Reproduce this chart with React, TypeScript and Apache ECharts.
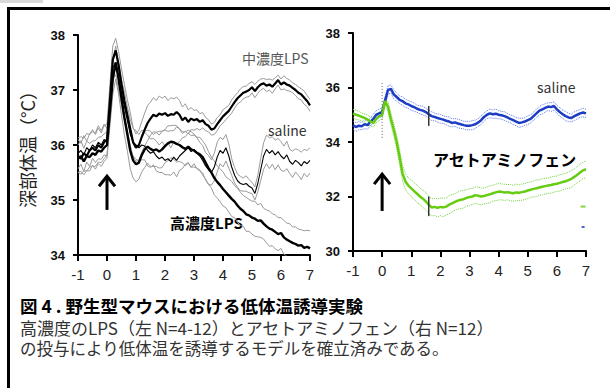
import React, { useEffect, useRef } from "react";
import * as echarts from "echarts";

// time grid (hours after injection), 0.1 h steps from -1 to 7
const hours: number[] = Array.from({ length: 81 }, (_, i) => (i - 10) / 10);

// ---- left panel: LPS ----
const midLpsMean = [
  35.80, 35.75, 35.85, 35.80, 35.90, 35.95, 35.90, 36.00, 35.95, 36.05,
  36.10, 36.80, 37.55, 37.72, 37.45, 37.10, 36.80, 36.55, 36.30, 36.05,
  35.95, 36.00, 36.15, 36.28, 36.40, 36.48, 36.55, 36.52, 36.57, 36.55,
  36.58, 36.53, 36.56, 36.55, 36.60, 36.55, 36.45, 36.50, 36.42, 36.48,
  36.45, 36.47, 36.42, 36.45, 36.38, 36.35, 36.28, 36.30, 36.38, 36.45,
  36.52, 36.57, 36.62, 36.70, 36.78, 36.85, 36.90, 36.95, 36.97, 37.00,
  37.05, 36.98, 37.05, 37.10, 37.12, 37.08, 37.10, 37.06, 37.12, 37.18,
  37.10, 37.14, 37.10, 37.08, 37.04, 37.00, 36.95, 36.92, 36.86, 36.80,
  36.72,
];
const midLpsSem = [
  0.30, 0.28, 0.32, 0.27, 0.30, 0.33, 0.29, 0.31, 0.27, 0.30,
  0.28, 0.30, 0.25, 0.22, 0.25, 0.28, 0.30, 0.28, 0.30, 0.27,
  0.25, 0.27, 0.28, 0.30, 0.32, 0.30, 0.31, 0.29, 0.32, 0.30,
  0.31, 0.28, 0.30, 0.29, 0.27, 0.26, 0.24, 0.25, 0.22, 0.20,
  0.18, 0.17, 0.15, 0.14, 0.12, 0.11, 0.10, 0.11, 0.12, 0.10,
  0.12, 0.11, 0.10, 0.12, 0.11, 0.10, 0.12, 0.11, 0.10, 0.12,
  0.10, 0.12, 0.11, 0.10, 0.09, 0.11, 0.10, 0.12, 0.10, 0.09,
  0.10, 0.12, 0.11, 0.10, 0.09, 0.10, 0.11, 0.10, 0.12, 0.10,
  0.11,
];
const hiLpsMean = [
  35.75, 35.80, 35.70, 35.80, 35.78, 35.85, 35.82, 35.90, 35.88, 35.95,
  36.00, 36.60, 37.20, 37.50, 37.20, 36.85, 36.50, 36.20, 35.90, 35.72,
  35.65, 35.68, 35.82, 35.92, 35.97, 35.93, 35.90, 35.92, 35.88, 35.92,
  35.98, 36.03, 36.06, 36.05, 36.02, 36.00, 35.96, 35.93, 35.97, 35.92,
  35.90, 35.86, 35.83, 35.78, 35.68, 35.58, 35.50, 35.40, 35.33, 35.27,
  35.20, 35.14, 35.08, 35.02, 34.97, 34.90, 34.84, 34.80, 34.74, 34.72,
  34.68, 34.66, 34.62, 34.63, 34.57, 34.52, 34.48, 34.46, 34.42, 34.38,
  34.40, 34.32, 34.28, 34.25, 34.22, 34.20, 34.17, 34.18, 34.13, 34.15,
  34.12,
];
const hiLpsSem = [
  0.25, 0.28, 0.24, 0.27, 0.25, 0.22, 0.26, 0.24, 0.27, 0.25,
  0.24, 0.26, 0.28, 0.30, 0.28, 0.30, 0.32, 0.30, 0.33, 0.32,
  0.32, 0.30, 0.31, 0.33, 0.30, 0.32, 0.29, 0.31, 0.30, 0.33,
  0.30, 0.32, 0.29, 0.31, 0.33, 0.30, 0.28, 0.31, 0.30, 0.32,
  0.30, 0.28, 0.31, 0.29, 0.32, 0.30, 0.28, 0.31, 0.29, 0.30,
  0.31, 0.28, 0.30, 0.32, 0.29, 0.31, 0.30, 0.28, 0.31, 0.29,
  0.30, 0.32, 0.29, 0.31, 0.28, 0.30, 0.32, 0.29, 0.31, 0.30,
  0.28, 0.31, 0.30, 0.32, 0.29, 0.31, 0.30, 0.28, 0.31, 0.30,
  0.32,
];
const salineMean = [
  35.85, 35.90, 35.82, 35.95, 35.90, 36.00, 35.95, 36.05, 36.00, 36.10,
  36.05, 36.70, 37.40, 37.50, 37.25, 36.95, 36.70, 36.45, 36.20, 36.05,
  36.00, 35.95, 36.00, 35.98, 35.90, 35.85, 35.88, 35.80, 35.75, 35.78,
  35.72, 35.75, 35.70, 35.78, 35.72, 35.80, 35.85, 35.90, 35.95, 35.88,
  35.92, 35.85, 35.80, 35.72, 35.62, 35.55, 35.50, 35.60, 35.78, 35.90,
  35.85, 35.95, 35.80, 35.60, 35.45, 35.35, 35.30, 35.28, 35.30, 35.25,
  35.22, 35.12, 35.30, 35.55, 35.80, 35.92, 35.85, 35.90, 35.82, 35.88,
  35.80, 35.75, 35.82, 35.70, 35.65, 35.72, 35.68, 35.62, 35.70, 35.66,
  35.72,
];
const salineSem = [
  0.28, 0.25, 0.30, 0.26, 0.29, 0.24, 0.27, 0.30, 0.26, 0.28,
  0.25, 0.22, 0.20, 0.22, 0.25, 0.24, 0.26, 0.25, 0.27, 0.25,
  0.26, 0.24, 0.27, 0.25, 0.28, 0.26, 0.24, 0.27, 0.25, 0.28,
  0.26, 0.29, 0.25, 0.27, 0.30, 0.26, 0.28, 0.25, 0.27, 0.29,
  0.26, 0.28, 0.25, 0.27, 0.24, 0.26, 0.23, 0.25, 0.27, 0.24,
  0.25, 0.24, 0.22, 0.15, 0.14, 0.12, 0.13, 0.12, 0.14, 0.12,
  0.10, 0.12, 0.15, 0.20, 0.24, 0.26, 0.28, 0.25, 0.27, 0.24,
  0.26, 0.23, 0.25, 0.22, 0.24, 0.21, 0.23, 0.25, 0.22, 0.24,
  0.23,
];

// ---- right panel: acetaminophen ----
const salineRMean = [
  34.62, 34.55, 34.60, 34.58, 34.65, 34.62, 34.75, 34.85, 35.00, 35.05,
  35.10, 35.50, 35.90, 35.95, 35.75, 35.65, 35.55, 35.50, 35.42, 35.38,
  35.32, 35.28, 35.22, 35.18, 35.15, 35.10, 35.02, 34.95, 34.92, 34.88,
  34.85, 34.82, 34.78, 34.75, 34.70, 34.72, 34.68, 34.65, 34.62, 34.60,
  34.60, 34.62, 34.65, 34.72, 34.80, 34.92, 35.00, 35.05, 35.02, 35.04,
  35.00, 34.98, 34.95, 34.90, 34.85, 34.80, 34.75, 34.70, 34.72, 34.75,
  34.80, 34.85, 34.95, 35.05, 35.15, 35.20, 35.25, 35.30, 35.28, 35.32,
  35.20, 35.10, 35.02, 34.95, 34.90, 34.88, 34.95, 35.00, 35.05, 35.08,
  35.05,
];
const salineRSem = [
  0.14, 0.16, 0.15, 0.13, 0.16, 0.15, 0.14, 0.17, 0.15, 0.16,
  0.15, 0.14, 0.16, 0.15, 0.17, 0.15, 0.14, 0.16, 0.15, 0.14,
  0.16, 0.15, 0.13, 0.15, 0.16, 0.14, 0.15, 0.16, 0.14, 0.15,
  0.16, 0.14, 0.15, 0.17, 0.15, 0.14, 0.16, 0.15, 0.14, 0.16,
  0.15, 0.17, 0.15, 0.14, 0.16, 0.15, 0.14, 0.16, 0.15, 0.17,
  0.15, 0.14, 0.16, 0.15, 0.14, 0.16, 0.15, 0.17, 0.15, 0.14,
  0.16, 0.15, 0.14, 0.16, 0.15, 0.17, 0.15, 0.14, 0.16, 0.15,
  0.14, 0.16, 0.15, 0.17, 0.15, 0.14, 0.16, 0.15, 0.14, 0.16,
  0.15,
];
const apapMean = [
  35.05, 35.00, 34.97, 34.92, 34.88, 34.82, 34.75, 34.70, 34.85, 34.95,
  35.00, 35.50, 35.30, 34.85, 34.45, 34.00, 33.45, 32.85, 32.55, 32.40,
  32.30, 32.20, 32.10, 32.00, 31.92, 31.82, 31.70, 31.60, 31.62, 31.58,
  31.62, 31.60, 31.63, 31.70, 31.75, 31.80, 31.85, 31.88, 31.90, 31.95,
  31.98, 32.00, 32.05, 32.03, 32.00, 32.02, 32.05, 32.08, 32.12, 32.15,
  32.18, 32.17, 32.15, 32.16, 32.14, 32.12, 32.15, 32.14, 32.16, 32.18,
  32.22, 32.25, 32.28, 32.30, 32.33, 32.36, 32.38, 32.40, 32.42, 32.45,
  32.47, 32.50, 32.53, 32.56, 32.60, 32.65, 32.72, 32.80, 32.88, 32.96,
  33.00,
];
const apapSem = [
  0.15, 0.17, 0.16, 0.14, 0.15, 0.17, 0.16, 0.15, 0.14, 0.16,
  0.15, 0.16, 0.18, 0.20, 0.22, 0.25, 0.27, 0.28, 0.30, 0.29,
  0.31, 0.30, 0.32, 0.30, 0.31, 0.33, 0.30, 0.32, 0.31, 0.33,
  0.32, 0.34, 0.31, 0.33, 0.32, 0.30, 0.31, 0.33, 0.32, 0.30,
  0.31, 0.29, 0.30, 0.32, 0.31, 0.29, 0.30, 0.31, 0.29, 0.30,
  0.31, 0.29, 0.30, 0.28, 0.30, 0.29, 0.31, 0.28, 0.30, 0.29,
  0.30, 0.28, 0.29, 0.31, 0.28, 0.30, 0.29, 0.28, 0.30, 0.29,
  0.28, 0.30, 0.29, 0.28, 0.30, 0.31, 0.29, 0.30, 0.31, 0.30,
  0.31,
];

// annotations: [x, yFrom, yTo]
const arrowLeft = [[0, 34.82, 35.45]];
const arrowRight = [[0, 31.47, 32.86]];
const injectionMark = [[0, 34.15, 36.2]];
const cutMarks = [[1.6, 34.59, 35.32], [1.6, 31.28, 32.0]];
const strayGreen = [[6.9, 31.63]];
const strayBlue = [[6.9, 30.88]];

const xTicks = { min: -1, max: 7, interval: 1 };
const leftY = { min: 34, max: 38, interval: 1 };
const rightY = { min: 30, max: 38, interval: 2 };

const captionTitle = "図 4 . 野生型マウスにおける低体温誘導実験";
const captionLine1 = "高濃度のLPS（左 N=4-12）とアセトアミノフェン（右 N=12）";
const captionLine2 = "の投与により低体温を誘導するモデルを確立済みである。";

const LATIN = '"Liberation Sans", Arial, sans-serif';
const CJK = '"Noto Sans CJK JP", "Noto Sans", sans-serif';

const pts = (ys: number[]) => hours.map((t, i) => [t, ys[i]]);
const bandPts = (m: number[], s: number[], sign: number) =>
  hours.map((t, i) => [t, +(m[i] + sign * s[i]).toFixed(3)]);

const lineSeries = (
  data: number[][],
  idx: number,
  color: string,
  width: number,
  type: string = "solid",
  z = 2
) => ({
  type: "line",
  xAxisIndex: idx,
  yAxisIndex: idx,
  data,
  showSymbol: false,
  symbol: "none",
  silent: true,
  z,
  lineStyle: { color, width, type },
});

const arrowSeries = (data: number[][], idx: number) => ({
  type: "custom",
  xAxisIndex: idx,
  yAxisIndex: idx,
  data,
  encode: { x: 0, y: [1, 2] },
  z: 5,
  silent: true,
  renderItem: (_p: any, api: any) => {
    const a = api.coord([api.value(0), api.value(1)]);
    const b = api.coord([api.value(0), api.value(2)]);
    return {
      type: "group",
      children: [
        { type: "line", shape: { x1: a[0], y1: a[1], x2: b[0], y2: b[1] + 1 }, style: { stroke: "#000", lineWidth: 3 } },
        {
          type: "polyline",
          shape: { points: [[b[0] - 8, b[1] + 11], [b[0], b[1] + 1], [b[0] + 8, b[1] + 11]] },
          style: { stroke: "#000", lineWidth: 3, fill: null },
        },
      ],
    };
  },
});

const segSeries = (data: number[][], idx: number, color: string, width: number, dash: number[] | null) => ({
  type: "custom",
  xAxisIndex: idx,
  yAxisIndex: idx,
  data,
  encode: { x: 0, y: [1, 2] },
  z: 6,
  silent: true,
  renderItem: (_p: any, api: any) => {
    const a = api.coord([api.value(0), api.value(1)]);
    const b = api.coord([api.value(0), api.value(2)]);
    return {
      type: "line",
      shape: { x1: a[0], y1: a[1], x2: b[0], y2: b[1] },
      style: { stroke: color, lineWidth: width, lineDash: dash || undefined },
    };
  },
});

const xAxisOf = (gridIndex: number) => ({
  type: "value",
  gridIndex,
  ...xTicks,
  axisLine: { show: true, onZero: false, lineStyle: { color: "#000", width: 2 } },
  axisTick: { show: true, inside: false, length: 6, lineStyle: { color: "#000", width: 2 } },
  axisLabel: { fontSize: 15, color: "#222", margin: 12, fontFamily: LATIN },
  splitLine: { show: false },
});
const yAxisOf = (gridIndex: number, r: any) => ({
  type: "value",
  gridIndex,
  ...r,
  axisLine: { show: true, onZero: false, lineStyle: { color: "#000", width: 2 } },
  axisTick: { show: true, inside: false, length: 5, lineStyle: { color: "#000", width: 2 } },
  axisLabel: { fontSize: 13, fontWeight: "bold", color: "#111", margin: 13, fontFamily: LATIN },
  splitLine: { show: false },
});

const text = (x: number, y: number, t: string, size: number, color: string, weight = "normal", extra: any = {}) => ({
  type: "text",
  x,
  y,
  silent: true,
  style: {
    text: t,
    fontSize: size,
    fontWeight: weight,
    fill: color,
    fontFamily: CJK,
    align: "left",
    verticalAlign: "middle",
    lineHeight: Math.round(size + 1),
  },
  ...extra,
});

export default function App() {
  const ref = useRef<HTMLDivElement>(null);
  useEffect(() => {
    if (!ref.current) return;
    const chart = echarts.init(ref.current, null, { renderer: "svg" });
    const gray = "#9a9a9a";
    chart.setOption({
      animation: false,
      backgroundColor: "#fff",
      grid: [
        { left: 78, top: 35, width: 232, height: 220 },
        { left: 353, top: 33, width: 233, height: 218 },
      ],
      xAxis: [xAxisOf(0), xAxisOf(1)],
      yAxis: [yAxisOf(0, leftY), yAxisOf(1, rightY)],
      series: [
        lineSeries(bandPts(midLpsMean, midLpsSem, 1), 0, gray, 1, "solid", 1),
        lineSeries(bandPts(midLpsMean, midLpsSem, -1), 0, gray, 1, "solid", 1),
        lineSeries(bandPts(hiLpsMean, hiLpsSem, 1), 0, gray, 1, "solid", 1),
        lineSeries(bandPts(hiLpsMean, hiLpsSem, -1), 0, gray, 1, "solid", 1),
        lineSeries(bandPts(salineMean, salineSem, 1), 0, gray, 1, "solid", 1),
        lineSeries(bandPts(salineMean, salineSem, -1), 0, gray, 1, "solid", 1),
        lineSeries(pts(salineMean), 0, "#000", 1.1),
        lineSeries(pts(midLpsMean), 0, "#000", 2.2),
        lineSeries(pts(hiLpsMean), 0, "#000", 2.4),
        arrowSeries(arrowLeft, 0),

        lineSeries(bandPts(salineRMean, salineRSem, 1), 1, "#5a78e6", 1, "dotted", 1),
        lineSeries(bandPts(salineRMean, salineRSem, -1), 1, "#5a78e6", 1, "dotted", 1),
        lineSeries(bandPts(apapMean, apapSem, 1), 1, "#72cf3a", 1, "dotted", 1),
        lineSeries(bandPts(apapMean, apapSem, -1), 1, "#72cf3a", 1, "dotted", 1),
        lineSeries(pts(salineRMean), 1, "#1d3cc4", 2.5),
        lineSeries(pts(apapMean), 1, "#66cc11", 2.5),
        segSeries(injectionMark, 1, "#666", 1, [1, 2]),
        segSeries(cutMarks, 1, "#333", 1.5, null),
        arrowSeries(arrowRight, 1),
        {
          type: "scatter",
          xAxisIndex: 1,
          yAxisIndex: 1,
          data: strayGreen,
          symbol: "rect",
          symbolSize: [5, 2],
          itemStyle: { color: "#66cc11" },
          silent: true,
        },
        {
          type: "scatter",
          xAxisIndex: 1,
          yAxisIndex: 1,
          data: strayBlue,
          symbol: "rect",
          symbolSize: [3, 2],
          itemStyle: { color: "#1d3cc4" },
          silent: true,
        },
      ],
      graphic: [
        { type: "rect", shape: { x: 0, y: 0, width: 43, height: 3 }, style: { fill: "#d9d9d9" }, silent: true },
        { type: "rect", shape: { x: 7, y: 7, width: 603, height: 3 }, style: { fill: "#000" }, silent: true },
        { type: "rect", shape: { x: 7, y: 7, width: 3, height: 381 }, style: { fill: "#000" }, silent: true },
        text(27, 145, "深部体温（°C）", 18, "#222", "normal", {
          rotation: Math.PI / 2,
          style: {
            text: "深部体温（°C）",
            fontSize: 18,
            fill: "#222",
            fontFamily: CJK,
            align: "center",
            verticalAlign: "middle",
            lineHeight: 19,
          },
        }),
        text(242, 58, "中濃度LPS", 14, "#555"),
        text(268, 130, "saline", 14, "#333"),
        text(170, 222, "高濃度LPS", 15, "#000", "bold"),
        text(537, 87, "saline", 14, "#333"),
        text(433, 159, "アセトアミノフェン", 16, "#000", "bold"),
        text(20, 305.5, captionTitle, 17.5, "#000", "bold"),
        text(20, 327, captionLine1, 17, "#333"),
        text(20, 347.5, captionLine2, 16.5, "#333"),
      ],
    });
    return () => chart.dispose();
  }, []);
  return (
    <div
      ref={ref}
      style={{ position: "fixed", left: 0, top: 0, width: 610, height: 388, background: "#fff" }}
    />
  );
}
